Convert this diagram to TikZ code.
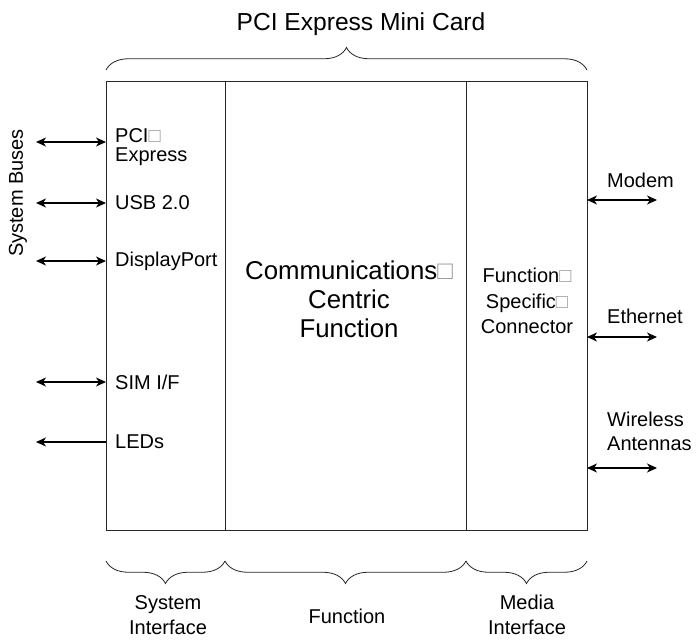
\documentclass[tikz,border=0pt]{standalone}
\usepackage{fontspec}
\setmainfont{Liberation Sans}
\usetikzlibrary{positioning,arrows.meta,decorations.pathreplacing}

\newcommand{\nlbox}{\textcolor{black!40}{□}}

\tikzset{
  panel/.style={draw=black!85, line width=0.8pt, inner sep=0pt, outer sep=0pt, minimum height=449pt},
  lbl/.style={font=\fontsize{20}{19.5}\selectfont, inner sep=0pt, align=left},
  bus/.style={line width=1.2pt, <->},
  grp/.style={decorate, decoration={brace, amplitude=22.5pt}, line width=0.8pt, black!85},
  >={Stealth[length=10pt,width=9pt,inset=3pt]},
}

\begin{document}
\begin{tikzpicture}[x=1pt, y=-1pt]
  \useasboundingbox (0,0) rectangle (697,641);
  % card split in three parts
  \node [panel, minimum width=119pt] (sysif) at (165.5,305.5) {};
  \node [panel, minimum width=241pt, right=0pt of sysif] (func) {};
  \node [panel, minimum width=121pt, right=0pt of func] (media) {};

  \node [font=\fontsize{24.6}{28}\selectfont] (title) at (361,24) {PCI Express Mini Card};
  \draw [grp] ([yshift=11pt]sysif.north west) -- ([yshift=11pt]media.north east);

  \node [font=\fontsize{25.8}{29}\selectfont, align=center] (cctxt) at (349,299)
  {Communications\nlbox\\Centric\\Function};
  \node [font=\fontsize{20}{25.5}\selectfont, align=center] (fsc) at (527,301)
  {Function\nlbox\\Specific\nlbox\\Connector};

  % system side
  \node [lbl, rotate=90] (sysbus) at (18,193) {System Buses};
  \node [lbl, anchor=west] (pcie) at (115,147) {PCI\nlbox\\Express};
  \node [lbl, anchor=west] (usb) at (115,203) {USB 2.0};
  \node [lbl, anchor=west] (dp) at (115,261) {DisplayPort};
  \node [lbl, anchor=west] (sim) at (115,382) {SIM I/F};
  \node [lbl, anchor=west] (led) at (115,442) {LEDs};
  \coordinate (busend) at (36,0);
  \coordinate (pciep) at (36,142);
  \draw [bus] (pciep) -- (sysif.west |- pciep);
  \draw [bus] (busend |- usb) -- (sysif.west |- usb);
  \draw [bus] (busend |- dp) -- (sysif.west |- dp);
  \draw [bus] (busend |- sim) -- (sysif.west |- sim);
  \draw [bus, <-] (busend |- led) -- (sysif.west |- led);

  % media side
  \node [lbl, anchor=west] (modem) at (607,180) {Modem};
  \node [lbl, anchor=west] (eth) at (607,316) {Ethernet};
  \node [lbl, anchor=west, font=\fontsize{20}{24}\selectfont] (wl) at (607,431) {Wireless\\Antennas};
  \coordinate (mdm) at (657,200);
  \coordinate (ethp) at (657,337);
  \coordinate (ant) at (657,468);
  \draw [bus] (media.east |- mdm) -- (mdm);
  \draw [bus] (media.east |- ethp) -- (ethp);
  \draw [bus] (media.east |- ant) -- (ant);

  % groups below
  \draw [grp] ([yshift=-31pt]sysif.south east) -- ([yshift=-31pt]sysif.south west);
  \draw [grp] ([yshift=-31pt]func.south east) -- ([yshift=-31pt]func.south west);
  \draw [grp] ([yshift=-31pt]media.south east) -- ([yshift=-31pt]media.south west);
  \node [font=\fontsize{20}{24.5}\selectfont, align=center] (sysl) at (168,615) {System\\Interface};
  \node [font=\fontsize{20}{24.5}\selectfont] (funcl) at (347,616) {Function};
  \node [font=\fontsize{20}{24.5}\selectfont, align=center] (medl) at (527,615) {Media\\Interface};
\end{tikzpicture}
\end{document}
